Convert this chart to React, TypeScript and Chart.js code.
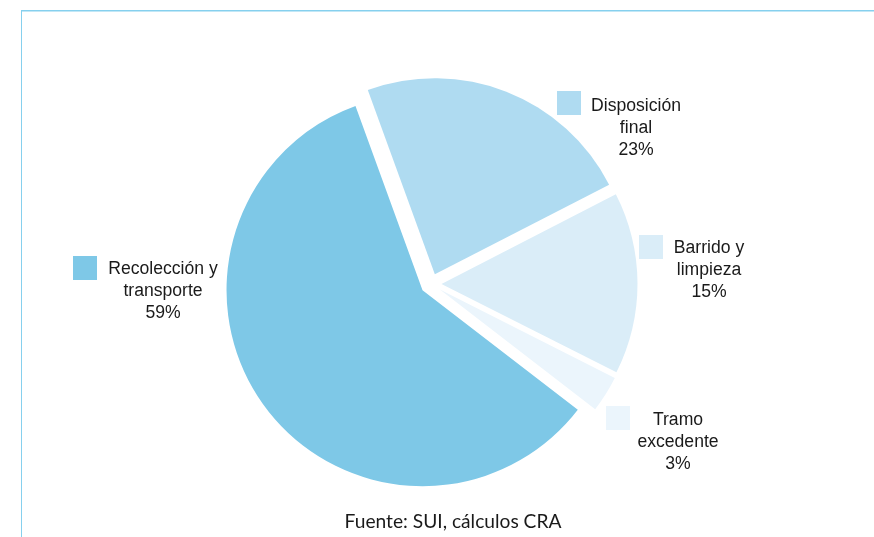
import React, { useEffect, useRef } from "react";
import { Chart, registerables } from "chart.js";

Chart.register(...registerables);

// ---- data ----
const categories = ["Disposición final", "Barrido y limpieza", "Tramo excedente", "Recolección y transporte"];
const values = [23, 15, 3, 59];
const percentLabels = ["23%", "15%", "3%", "59%"];
const labelLines = [
  ["Disposición", "final"],
  ["Barrido y", "limpieza"],
  ["Tramo", "excedente"],
  ["Recolección y", "transporte"],
];
const colors = ["#afdbf1", "#daedf8", "#ebf5fc", "#7ec8e7"];
const sourceNote = "Fuente: SUI, cálculos CRA";

// ---- layout / style ----
const LABEL_LAYOUT = [
  { sx: 557, sy: 91, tx: 636, ty: 111 },
  { sx: 639, sy: 235, tx: 709, ty: 253.3 },
  { sx: 606, sy: 406, tx: 678, ty: 425 },
  { sx: 73, sy: 256, tx: 163, ty: 274.3 },
];
const SQUARE = 24;
const LINE_H = 22;
const LABEL_FONT = "17.6px 'Liberation Sans', Arial, sans-serif";
const EXPLODE = 10.5;
const BORDER_COLOR = "#86d0ee";

function explodedDraw(this: any, ctx: CanvasRenderingContext2D) {
  const { x, y, startAngle, endAngle, outerRadius, options } = this;
  const mid = (startAngle + endAngle) / 2;
  ctx.save();
  ctx.translate(Math.cos(mid) * EXPLODE, Math.sin(mid) * EXPLODE);
  ctx.beginPath();
  ctx.moveTo(x, y);
  ctx.arc(x, y, outerRadius, startAngle, endAngle);
  ctx.closePath();
  ctx.fillStyle = options.backgroundColor;
  ctx.fill();
  ctx.restore();
}

const decorPlugin = {
  id: "decor",
  beforeDatasetsDraw(chart: any) {
    const meta = chart.getDatasetMeta(0);
    meta.data.forEach((el: any) => {
      if (!el.__exploded) {
        el.__exploded = true;
        el.draw = explodedDraw;
      }
    });
  },
  afterDraw(chart: any) {
    const ctx: CanvasRenderingContext2D = chart.ctx;
    ctx.save();
    // frame lines
    ctx.fillStyle = BORDER_COLOR;
    ctx.fillRect(21, 10, 853, 1.5);
    ctx.fillRect(21, 10, 1, 527);

    // labels
    ctx.font = LABEL_FONT;
    ctx.textAlign = "center";
    ctx.textBaseline = "alphabetic";
    LABEL_LAYOUT.forEach((p, i) => {
      ctx.fillStyle = colors[i];
      ctx.fillRect(p.sx, p.sy, SQUARE, SQUARE);
      ctx.fillStyle = "#1a1a1a";
      const lines = [...labelLines[i], percentLabels[i]];
      lines.forEach((t, j) => ctx.fillText(t, p.tx, p.ty + j * LINE_H));
    });

    // source note
    ctx.font = "16px Lato, 'Open Sans', sans-serif";
    const w = ctx.measureText(sourceNote).width;
    const size = (16 * 217) / w;
    ctx.font = `${size.toFixed(2)}px Lato, 'Open Sans', sans-serif`;
    ctx.fillStyle = "#1a1a1a";
    ctx.fillText(sourceNote, 453, 528.3);
    ctx.restore();
  },
};

export default function App() {
  const ref = useRef<HTMLCanvasElement>(null);
  useEffect(() => {
    if (!ref.current) return;
    const chart = new Chart(ref.current, {
      type: "pie",
      data: {
        labels: categories,
        datasets: [
          {
            data: values,
            backgroundColor: colors,
            borderWidth: 0,
          },
        ],
      },
      options: {
        responsive: false,
        animation: false,
        rotation: -20,
        radius: 196,
        events: [],
        layout: { padding: { left: 0, right: 12, top: 31, bottom: 0 } },
        plugins: {
          legend: { display: false },
          tooltip: { enabled: false },
        },
      } as any,
      plugins: [decorPlugin],
    });
    return () => chart.destroy();
  }, []);
  return (
    <div style={{ position: "fixed", left: 0, top: 0, width: 874, height: 537, background: "#fff" }}>
      <canvas ref={ref} width={874} height={537} style={{ display: "block" }} />
    </div>
  );
}
